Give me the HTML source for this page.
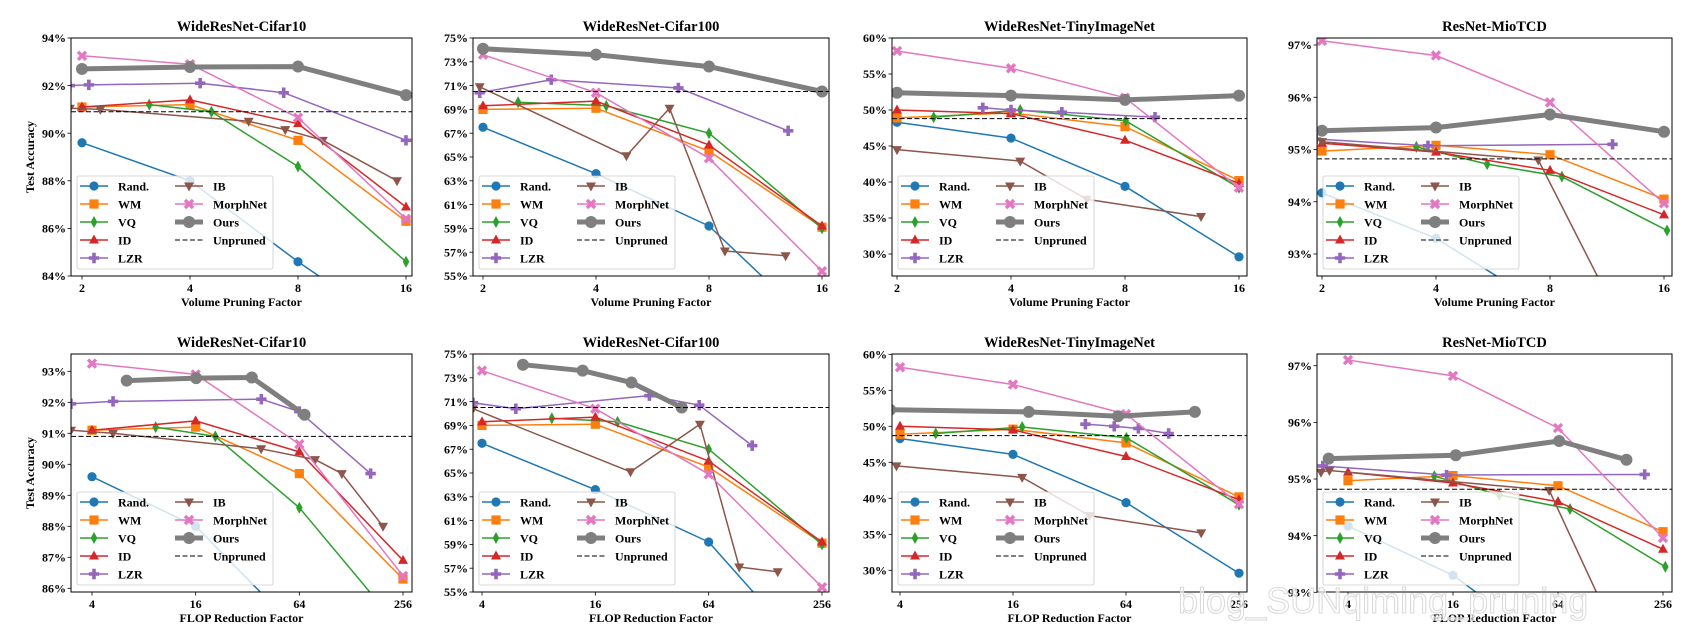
<!DOCTYPE html>
<html><head><meta charset="utf-8">
<style>
html,body{margin:0;padding:0;background:#fff;width:1691px;height:630px;overflow:hidden;}
svg{display:block;font-family:"Liberation Serif",serif;font-weight:bold;}
</style></head>
<body>
<svg id="fig" width="1691" height="630" viewBox="0 0 1691 630" xmlns="http://www.w3.org/2000/svg"></svg>
<script>
// ===== Data (x = factor, y = accuracy %) =====
const p1RandX=[2,4,8,16], p1RandY=[89.6,88.0,84.6,81.5];
const p1WmX=[2,4,8,16], p1WmY=[91.1,91.2,89.7,86.3];
const p1VqX=[3.08,4.59,8,16], p1VqY=[91.2,90.9,88.6,84.6];
const p1IdX=[2,4,8,16], p1IdY=[91.1,91.4,90.4,86.9];
const p1LzrX=[1.85,2.09,4.27,7.3,16], p1LzrY=[92.0,92.03,92.1,91.7,89.7];
const p1IbX=[1.85,2.25,5.83,7.37,9.38,15.1], p1IbY=[91.05,91.0,90.5,90.15,89.7,88.0];
const p1MorphX=[2,4,8,16], p1MorphY=[93.25,92.9,90.65,86.4];
const p1OursX=[2,4,8,16], p1OursY=[92.7,92.78,92.8,91.6];
const p1Unpruned=90.9;
const p2RandX=[2,4,8,16], p2RandY=[67.5,63.6,59.2,50.2];
const p2WmX=[2,4,8,16], p2WmY=[69.0,69.1,65.5,59.1];
const p2VqX=[2.48,4.26,8,16], p2VqY=[69.6,69.3,67.0,59.0];
const p2IdX=[2,4,8,16], p2IdY=[69.3,69.7,66.0,59.2];
const p2LzrX=[1.96,3.04,6.63,13.0], p2LzrY=[70.4,71.5,70.8,67.2];
const p2IbX=[1.96,4.82,6.28,8.82,12.8], p2IbY=[70.9,65.1,69.1,57.1,56.7];
const p2MorphX=[2,4,8,16], p2MorphY=[73.6,70.4,64.9,55.4];
const p2OursX=[2,4,8,16], p2OursY=[74.1,73.6,72.6,70.5];
const p2Unpruned=70.5;
const p3RandX=[2,4,8,16], p3RandY=[48.3,46.1,39.4,29.6];
const p3WmX=[2,4,8,16], p3WmY=[48.9,49.6,47.7,40.2];
const p3VqX=[2.5,4.23,8.03,16], p3VqY=[49.0,50.0,48.5,39.2];
const p3IdX=[2,4,8,16], p3IdY=[50.0,49.5,45.8,39.8];
const p3LzrX=[3.37,4,5.45,9.6], p3LzrY=[50.3,50.0,49.7,49.0];
const p3IbX=[2,4.23,6.34,12.7], p3IbY=[44.5,42.9,37.6,35.2];
const p3MorphX=[2,4,8,16], p3MorphY=[58.2,55.8,51.7,39.2];
const p3OursX=[2,4,8,16], p3OursY=[52.4,52.0,51.4,52.0];
const p3Unpruned=48.8;
const p4RandX=[2,4,8], p4RandY=[94.17,93.3,91.94];
const p4WmX=[2,4,8,16], p4WmY=[94.97,95.08,94.9,94.05];
const p4VqX=[3.55,5.46,8.6,16.3], p4VqY=[95.05,94.72,94.48,93.45];
const p4IdX=[2,4,8,16], p4IdY=[95.12,94.95,94.6,93.75];
const p4LzrX=[1.93,3.81,11.7], p4LzrY=[95.2,95.07,95.1];
const p4IbX=[2,7.45,12.7], p4IbY=[95.15,94.8,91.5];
const p4MorphX=[2,4,8,16], p4MorphY=[97.08,96.8,95.9,93.97];
const p4OursX=[2,4,8,16], p4OursY=[95.36,95.42,95.67,95.34];
const p4Unpruned=94.82;
const b1RandX=[4,16,64,256], b1RandY=[89.6,88.0,84.6,81.5];
const b1WmX=[4,16,64,256], b1WmY=[91.1,91.2,89.7,86.3];
const b1VqX=[9.37,20.8,64,256], b1VqY=[91.2,90.9,88.6,84.6];
const b1IdX=[4,16,64,256], b1IdY=[91.1,91.4,90.4,86.9];
const b1LzrX=[3.02,5.3,38.5,64,166], b1LzrY=[91.95,92.03,92.1,91.7,89.7];
const b1IbX=[3.02,5.3,38.4,79,113,196], b1IbY=[91.1,91.0,90.5,90.15,89.7,88.0];
const b1MorphX=[4,16,64,256], b1MorphY=[93.25,92.9,90.65,86.4];
const b1OursX=[6.36,16.1,33.9,68.6], b1OursY=[92.7,92.78,92.8,91.6];
const b1Unpruned=90.9;
const b2RandX=[4,16,64,256], b2RandY=[67.5,63.6,59.2,48.5];
const b2WmX=[4,16,64,256], b2WmY=[69.0,69.1,65.5,59.1];
const b2VqX=[9.4,21,64,256], b2VqY=[69.6,69.3,67.0,59.0];
const b2IdX=[4,16,64,256], b2IdY=[69.3,69.7,66.0,59.2];
const b2LzrX=[3.58,6.05,31,57,109], b2LzrY=[70.9,70.4,71.5,70.7,67.3];
const b2IbX=[3.58,24.6,57.5,93,149], b2IbY=[70.4,65.1,69.1,57.1,56.7];
const b2MorphX=[4,16,64,256], b2MorphY=[73.6,70.4,64.9,55.4];
const b2OursX=[6.6,13.7,24.9,46], b2OursY=[74.1,73.6,72.6,70.5];
const b2Unpruned=70.5;
const b3RandX=[4,16,64,256], b3RandY=[48.3,46.1,39.4,29.6];
const b3WmX=[4,16,64,256], b3WmY=[48.9,49.6,47.7,40.2];
const b3VqX=[6.2,17.9,64.3,256], b3VqY=[49.0,49.9,48.4,39.1];
const b3IdX=[4,16,64,256], b3IdY=[50.0,49.5,45.8,39.8];
const b3LzrX=[38.9,55.4,74.5,108], b3LzrY=[50.3,50.0,49.7,49.0];
const b3IbX=[3.83,17.9,40.9,161], b3IbY=[44.5,42.9,37.6,35.2];
const b3MorphX=[4,16,64,256], b3MorphY=[58.2,55.8,51.7,39.2];
const b3OursX=[3.54,19.4,58,149], b3OursY=[52.3,52.0,51.4,52.0];
const b3Unpruned=48.7;
const b4RandX=[4,16,64], b4RandY=[94.17,93.3,91.94];
const b4WmX=[4,16,64,256], b4WmY=[94.97,95.06,94.88,94.07];
const b4VqX=[12.5,29.5,75,264], b4VqY=[95.05,94.72,94.47,93.45];
const b4IdX=[4,16,64,256], b4IdY=[95.12,94.93,94.6,93.76];
const b4LzrX=[2.87,14.7,201], b4LzrY=[95.23,95.07,95.08];
const b4IbX=[2.8,3.13,57,158], b4IbY=[95.12,95.15,94.8,91.86];
const b4MorphX=[4,16,64,256], b4MorphY=[97.1,96.82,95.9,93.96];
const b4OursX=[3.1,16.6,65,158], b4OursY=[95.36,95.42,95.67,95.34];
const b4Unpruned=94.82;

const topXTicks=[2,4,8,16], botXTicks=[4,16,64,256];
const c10Ticks=[84,86,88,90,92,94], c100Ticks=[55,57,59,61,63,65,67,69,71,73,75];
const tinyTicks=[30,35,40,45,50,55,60], mioTicks=[93,94,95,96,97];
const c10BotTicks=[86,87,88,89,90,91,92,93];

const seriesNames=['Rand.','WM','VQ','ID','LZR','IB','MorphNet','Ours'];
const colors=['#1f77b4','#ff7f0e','#2ca02c','#d62728','#9467bd','#8c564b','#e377c2','#7f7f7f'];
const markers=['o','s','d','^','P','v','X','O'];

const panels=[
 {id:'p1',title:'WideResNet-Cifar10',xl:'Volume Pruning Factor',yl:true,box:[71,38,412,276],xa:[2,82,16,406],ya:[84,276,94,38],xt:topXTicks,yt:c10Ticks,
  s:[[p1RandX,p1RandY],[p1WmX,p1WmY],[p1VqX,p1VqY],[p1IdX,p1IdY],[p1LzrX,p1LzrY],[p1IbX,p1IbY],[p1MorphX,p1MorphY],[p1OursX,p1OursY]],u:p1Unpruned},
 {id:'p2',title:'WideResNet-Cifar100',xl:'Volume Pruning Factor',box:[473,38,829,276],xa:[2,483,16,822],ya:[55,276,75,38],xt:topXTicks,yt:c100Ticks,
  s:[[p2RandX,p2RandY],[p2WmX,p2WmY],[p2VqX,p2VqY],[p2IdX,p2IdY],[p2LzrX,p2LzrY],[p2IbX,p2IbY],[p2MorphX,p2MorphY],[p2OursX,p2OursY]],u:p2Unpruned},
 {id:'p3',title:'WideResNet-TinyImageNet',xl:'Volume Pruning Factor',box:[892,38,1247,276],xa:[2,897,16,1239],ya:[30,254,60,38],xt:topXTicks,yt:tinyTicks,
  s:[[p3RandX,p3RandY],[p3WmX,p3WmY],[p3VqX,p3VqY],[p3IdX,p3IdY],[p3LzrX,p3LzrY],[p3IbX,p3IbY],[p3MorphX,p3MorphY],[p3OursX,p3OursY]],u:p3Unpruned},
 {id:'p4',title:'ResNet-MioTCD',xl:'Volume Pruning Factor',box:[1317,38,1672,276],xa:[2,1322,16,1664],ya:[93,254,97,45],xt:topXTicks,yt:mioTicks,
  s:[[p4RandX,p4RandY],[p4WmX,p4WmY],[p4VqX,p4VqY],[p4IdX,p4IdY],[p4LzrX,p4LzrY],[p4IbX,p4IbY],[p4MorphX,p4MorphY],[p4OursX,p4OursY]],u:p4Unpruned},
 {id:'b1',title:'WideResNet-Cifar10',xl:'FLOP Reduction Factor',yl:true,box:[71,354,412,592],xa:[4,92,256,403],ya:[86,588.3,93,371.3],xt:botXTicks,yt:c10BotTicks,
  s:[[b1RandX,b1RandY],[b1WmX,b1WmY],[b1VqX,b1VqY],[b1IdX,b1IdY],[b1LzrX,b1LzrY],[b1IbX,b1IbY],[b1MorphX,b1MorphY],[b1OursX,b1OursY]],u:b1Unpruned},
 {id:'b2',title:'WideResNet-Cifar100',xl:'FLOP Reduction Factor',box:[473,354,829,592],xa:[4,482,256,822],ya:[55,592,75,354],xt:botXTicks,yt:c100Ticks,
  s:[[b2RandX,b2RandY],[b2WmX,b2WmY],[b2VqX,b2VqY],[b2IdX,b2IdY],[b2LzrX,b2LzrY],[b2IbX,b2IbY],[b2MorphX,b2MorphY],[b2OursX,b2OursY]],u:b2Unpruned},
 {id:'b3',title:'WideResNet-TinyImageNet',xl:'FLOP Reduction Factor',box:[892,354,1247,592],xa:[4,900,256,1239],ya:[30,570.3,60,354.3],xt:botXTicks,yt:tinyTicks,
  s:[[b3RandX,b3RandY],[b3WmX,b3WmY],[b3VqX,b3VqY],[b3IdX,b3IdY],[b3LzrX,b3LzrY],[b3IbX,b3IbY],[b3MorphX,b3MorphY],[b3OursX,b3OursY]],u:b3Unpruned},
 {id:'b4',title:'ResNet-MioTCD',xl:'FLOP Reduction Factor',box:[1317,354,1672,592],xa:[4,1348,256,1663],ya:[93,592.3,97,365.7],xt:botXTicks,yt:mioTicks,
  s:[[b4RandX,b4RandY],[b4WmX,b4WmY],[b4VqX,b4VqY],[b4IdX,b4IdY],[b4LzrX,b4LzrY],[b4IbX,b4IbY],[b4MorphX,b4MorphY],[b4OursX,b4OursY]],u:b4Unpruned}
];

const NS='http://www.w3.org/2000/svg';
const fig=document.getElementById('fig');
function mk(tag,attrs,parent){const e=document.createElementNS(NS,tag);for(const k in attrs)e.setAttribute(k,attrs[k]);(parent||fig).appendChild(e);return e;}

function drawMarker(g,type,x,y,c){
  let e;
  if(type==='o'){e=mk('circle',{cx:x,cy:y,r:4.6,fill:c},g);}
  else if(type==='O'){e=mk('circle',{cx:x,cy:y,r:6,fill:c},g);}
  else if(type==='s'){e=mk('rect',{x:x-4.6,y:y-4.6,width:9.2,height:9.2,fill:c},g);}
  else if(type==='d'){e=mk('polygon',{points:`${x},${y-6} ${x+3.3},${y} ${x},${y+6} ${x-3.3},${y}`,fill:c},g);}
  else if(type==='^'){e=mk('polygon',{points:`${x},${y-5.5} ${x+5},${y+3.5} ${x-5},${y+3.5}`,fill:c},g);}
  else if(type==='v'){e=mk('polygon',{points:`${x},${y+5.5} ${x+5},${y-3.5} ${x-5},${y-3.5}`,fill:c},g);}
  else if(type==='P'){e=mk('path',{d:`M${x-1.8},${y-5.2}h3.6v3.4h3.4v3.6h-3.4v3.4h-3.6v-3.4h-3.4v-3.6h3.4z`,fill:c},g);}
  else if(type==='X'){e=mk('path',{d:`M${x-4},${y-4}L${x+4},${y+4}M${x+4},${y-4}L${x-4},${y+4}`,stroke:c,'stroke-width':3.4,fill:'none'},g);}
  return e;
}

panels.forEach((p,pi)=>{
  const [l,t,r,b]=p.box;
  const X=f=>p.xa[1]+(Math.log2(f)-Math.log2(p.xa[0]))/(Math.log2(p.xa[2])-Math.log2(p.xa[0]))*(p.xa[3]-p.xa[1]);
  const Y=v=>p.ya[1]+(v-p.ya[0])/(p.ya[2]-p.ya[0])*(p.ya[3]-p.ya[1]);
  const g=mk('g',{});
  
  
  const cp=mk('clipPath',{id:'clip'+p.id},g);
  mk('rect',{x:l,y:t,width:r-l,height:b-t},cp);
  const tt=mk('text',{x:(l+r)/2,y:t-7,'text-anchor':'middle','font-size':14.5},g);
  tt.textContent=p.title;
  
  
  p.xt.forEach(v=>{
    const x=X(v);
    mk('line',{x1:x,x2:x,y1:b,y2:b+3.5,stroke:'#000','stroke-width':0.8},g);
    const tx=mk('text',{x:x,y:b+16,'text-anchor':'middle','font-size':12},g);
    tx.textContent=String(v);
    
    
  });
  p.yt.forEach(v=>{
    const y=Y(v);
    mk('line',{x1:l-3.5,x2:l,y1:y,y2:y,stroke:'#000','stroke-width':0.8},g);
    const ty=mk('text',{x:l-5,y:y+4.2,'text-anchor':'end','font-size':12},g);
    ty.textContent=v+'%';
    
    
  });
  const xl=mk('text',{x:(l+r)/2,y:b+30,'text-anchor':'middle','font-size':12},g);
  xl.textContent=p.xl;
  
  
  if(p.yl){
    const cy=(t+b)/2;
    const yl=mk('text',{x:34,y:cy,'text-anchor':'middle','font-size':12,transform:`rotate(-90 34 ${cy})`},g);
    yl.textContent='Test Accuracy';
    
    
  }
  const pg=mk('g',{'clip-path':`url(#clip${p.id})`},g);
  p.s.forEach((sd,si)=>{
    const [xs,ys]=sd;
    const pts=xs.map((xv,i)=>X(xv).toFixed(1)+','+Y(ys[i]).toFixed(1)).join(' ');
    const sg=mk('g',{},pg);
    
    
    mk('polyline',{points:pts,fill:'none',stroke:colors[si],'stroke-width':si===7?5:1.5,'stroke-linejoin':'round'},sg);
    xs.forEach((xv,i)=>{
      const m=drawMarker(sg,markers[si],X(xv),Y(ys[i]),colors[si]);
      
      
    });
  });
  const ul=mk('line',{x1:l,x2:r,y1:Y(p.u),y2:Y(p.u),stroke:'#000','stroke-width':1,'stroke-dasharray':'5,2.5'},pg);
  
  
  const lx=l+6, ly=b-100;
  const lg=mk('g',{},g);
  
  
  mk('rect',{x:lx,y:ly,width:196,height:93,rx:2,fill:'#fff','fill-opacity':0.8,stroke:'#ccc','stroke-width':0.8},lg);
  const entries=seriesNames.concat(['Unpruned']);
  entries.forEach((nm,i)=>{
    const col=i<5?0:1, row=i<5?i:i-5;
    const x0=lx+(col?98:3), y0=ly+10+row*18;
    const eg=mk('g',{},lg);
    
    
    if(i<8){
      mk('line',{x1:x0,x2:x0+28,y1:y0,y2:y0,stroke:colors[i],'stroke-width':i===7?5:1.5},eg);
      drawMarker(eg,markers[i],x0+14,y0,colors[i]);
    } else {
      mk('line',{x1:x0,x2:x0+28,y1:y0,y2:y0,stroke:'#000','stroke-width':1,'stroke-dasharray':'5,2.5'},eg);
    }
    const te=mk('text',{x:x0+38,y:y0+4.3,'font-size':12},eg);
    te.textContent=nm;
  });
  mk('rect',{x:l,y:t,width:r-l,height:b-t,fill:'none',stroke:'#000','stroke-width':1},g);
});
const wm=mk('text',{x:1178,y:613,'font-size':36,'font-family':'Liberation Sans, sans-serif','font-weight':'normal',fill:'#fff',stroke:'#d8d8d8','stroke-width':1,'fill-opacity':0.6});
wm.textContent='blog_SUNqiming_pruning';


</script>
</body></html>
